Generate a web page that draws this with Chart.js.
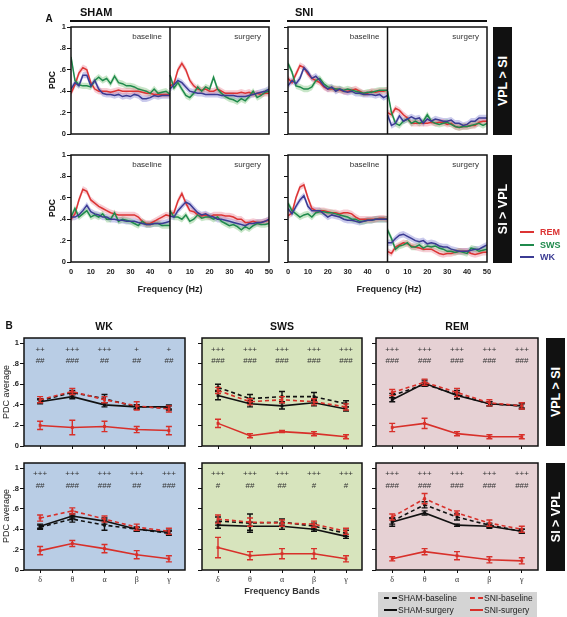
<!DOCTYPE html>
<html><head><meta charset="utf-8">
<script src="https://cdn.jsdelivr.net/npm/chart.js@4.4.1/dist/chart.umd.min.js"></script>
<style>
body{margin:0;background:#fff;}
#fig{position:relative;width:567px;height:617px;overflow:hidden;font-family:'Liberation Sans',Arial,sans-serif;background:#fff;}
#fig canvas{position:absolute;}
.t{position:absolute;white-space:nowrap;color:#111;line-height:1;}
.blk{position:absolute;background:#111;}
</style></head>
<body><div id="fig"></div>
<script>
// ---------------- Panel A data (PDC vs frequency, 2 Hz steps) ----------------
const freqHz = [0,2,4,6,8,10,12,14,16,18,20,22,24,26,28,30,32,34,36,38,40,42,44,46,48,50];
const freqTickLabels = ['0','10','20','30','40','0','10','20','30','40','50'];
const stateNames = ['REM','SWS','WK'];
const bandHalfWidth = [0.03,0.03,0.03]; // shaded SEM band per state

// SHAM, VPL > SI
const shamVplBaseREM = [0.38,0.46,0.57,0.62,0.60,0.48,0.42,0.40,0.40,0.40,0.39,0.40,0.41,0.40,0.40,0.40,0.40,0.40,0.39,0.38,0.38,0.37,0.37,0.37,0.37,0.37];
const shamVplBaseSWS = [0.72,0.50,0.46,0.45,0.45,0.44,0.50,0.53,0.50,0.52,0.47,0.54,0.48,0.47,0.45,0.45,0.44,0.42,0.41,0.40,0.38,0.42,0.38,0.39,0.40,0.37];
const shamVplBaseWK  = [0.42,0.48,0.45,0.55,0.55,0.45,0.50,0.42,0.38,0.37,0.37,0.36,0.37,0.35,0.36,0.35,0.37,0.36,0.33,0.33,0.34,0.36,0.35,0.36,0.36,0.36];
const shamVplSurgREM = [0.45,0.47,0.60,0.66,0.60,0.50,0.45,0.42,0.41,0.42,0.40,0.40,0.42,0.40,0.38,0.38,0.38,0.38,0.39,0.38,0.39,0.37,0.38,0.37,0.38,0.38];
const shamVplSurgSWS = [0.55,0.43,0.48,0.42,0.36,0.34,0.38,0.44,0.40,0.44,0.42,0.53,0.42,0.38,0.35,0.33,0.32,0.30,0.33,0.31,0.35,0.40,0.34,0.36,0.39,0.40];
const shamVplSurgWK  = [0.42,0.46,0.50,0.48,0.44,0.40,0.39,0.38,0.38,0.37,0.37,0.37,0.37,0.36,0.36,0.36,0.36,0.35,0.35,0.35,0.36,0.37,0.38,0.39,0.40,0.42];
// SNI, VPL > SI
const sniVplBaseREM = [0.52,0.48,0.56,0.64,0.62,0.56,0.52,0.50,0.48,0.44,0.42,0.42,0.42,0.41,0.40,0.40,0.41,0.42,0.40,0.38,0.38,0.40,0.39,0.40,0.40,0.41];
const sniVplBaseSWS = [0.66,0.58,0.45,0.44,0.42,0.42,0.44,0.50,0.52,0.47,0.44,0.43,0.42,0.42,0.41,0.42,0.41,0.40,0.39,0.38,0.39,0.39,0.40,0.41,0.41,0.41];
const sniVplBaseWK  = [0.45,0.50,0.47,0.52,0.62,0.58,0.52,0.54,0.50,0.45,0.42,0.44,0.40,0.42,0.40,0.39,0.40,0.38,0.38,0.37,0.37,0.37,0.36,0.37,0.34,0.36];
const sniVplSurgREM = [0.20,0.18,0.24,0.22,0.18,0.15,0.10,0.10,0.10,0.10,0.10,0.11,0.10,0.11,0.11,0.09,0.10,0.07,0.06,0.07,0.07,0.08,0.08,0.11,0.12,0.12];
const sniVplSurgSWS = [0.40,0.20,0.10,0.08,0.12,0.14,0.10,0.12,0.10,0.12,0.18,0.12,0.10,0.09,0.10,0.11,0.09,0.07,0.06,0.07,0.07,0.08,0.09,0.10,0.08,0.10];
const sniVplSurgWK  = [0.18,0.08,0.10,0.17,0.12,0.14,0.16,0.14,0.15,0.10,0.14,0.12,0.14,0.13,0.12,0.12,0.13,0.10,0.10,0.08,0.09,0.12,0.12,0.15,0.15,0.15];
// SHAM, SI > VPL
const shamSiBaseREM = [0.40,0.45,0.58,0.68,0.66,0.58,0.55,0.52,0.50,0.48,0.46,0.45,0.44,0.44,0.44,0.44,0.44,0.42,0.38,0.36,0.36,0.38,0.40,0.42,0.44,0.43];
const shamSiBaseSWS = [0.42,0.50,0.42,0.45,0.48,0.42,0.44,0.42,0.45,0.40,0.40,0.46,0.38,0.40,0.39,0.38,0.36,0.34,0.38,0.35,0.35,0.36,0.36,0.34,0.34,0.34];
const shamSiBaseWK  = [0.42,0.42,0.44,0.48,0.53,0.47,0.45,0.44,0.42,0.42,0.40,0.40,0.39,0.39,0.38,0.38,0.38,0.37,0.36,0.35,0.35,0.36,0.36,0.36,0.37,0.38];
const shamSiSurgREM = [0.45,0.46,0.57,0.64,0.55,0.48,0.47,0.44,0.43,0.44,0.42,0.44,0.44,0.44,0.43,0.43,0.42,0.40,0.40,0.37,0.37,0.38,0.37,0.37,0.38,0.39];
const shamSiSurgSWS = [0.48,0.42,0.42,0.40,0.44,0.38,0.40,0.44,0.41,0.42,0.42,0.40,0.42,0.38,0.36,0.34,0.35,0.33,0.30,0.33,0.31,0.34,0.36,0.35,0.35,0.36];
const shamSiSurgWK  = [0.43,0.42,0.48,0.52,0.56,0.54,0.50,0.46,0.44,0.45,0.43,0.42,0.40,0.40,0.39,0.38,0.37,0.36,0.35,0.34,0.36,0.36,0.37,0.37,0.38,0.40];
// SNI, SI > VPL
const sniSiBaseREM = [0.43,0.46,0.60,0.70,0.72,0.60,0.50,0.48,0.48,0.48,0.47,0.46,0.46,0.45,0.46,0.46,0.45,0.42,0.40,0.40,0.40,0.40,0.40,0.41,0.41,0.40];
const sniSiBaseSWS = [0.55,0.48,0.45,0.42,0.44,0.45,0.42,0.46,0.47,0.47,0.46,0.46,0.45,0.44,0.43,0.42,0.40,0.40,0.38,0.38,0.39,0.39,0.40,0.40,0.40,0.40];
const sniSiBaseWK  = [0.50,0.45,0.52,0.58,0.62,0.52,0.48,0.48,0.48,0.45,0.42,0.44,0.43,0.42,0.40,0.39,0.39,0.38,0.37,0.38,0.39,0.39,0.40,0.40,0.40,0.40];
const sniSiSurgREM = [0.10,0.08,0.14,0.16,0.18,0.17,0.15,0.14,0.13,0.12,0.12,0.12,0.10,0.08,0.07,0.08,0.08,0.09,0.10,0.10,0.10,0.08,0.07,0.08,0.09,0.09];
const sniSiSurgSWS = [0.30,0.22,0.12,0.15,0.16,0.18,0.14,0.14,0.16,0.13,0.15,0.14,0.15,0.13,0.12,0.10,0.10,0.09,0.10,0.09,0.08,0.13,0.12,0.10,0.11,0.12];
const sniSiSurgWK  = [0.18,0.18,0.22,0.25,0.26,0.24,0.22,0.20,0.19,0.20,0.17,0.18,0.17,0.15,0.14,0.14,0.12,0.11,0.10,0.10,0.10,0.11,0.12,0.12,0.14,0.16];

// ---------------- Panel B data (PDC average per band) ----------------
const bandLabels = ['δ','θ','α','β','γ'];
const seriesNames = ['SHAM-baseline','SHAM-surgery','SNI-baseline','SNI-surgery'];
// VPL > SI
const wkVplShamBase = [0.44,0.52,0.46,0.38,0.37], wkVplShamBaseErr = [0.02,0.02,0.04,0.02,0.02];
const wkVplShamSurg = [0.43,0.48,0.40,0.38,0.38], wkVplShamSurgErr = [0.02,0.02,0.02,0.02,0.02];
const wkVplSniBase  = [0.45,0.53,0.45,0.39,0.36], wkVplSniBaseErr  = [0.03,0.03,0.03,0.04,0.03];
const wkVplSniSurg  = [0.20,0.18,0.19,0.16,0.15], wkVplSniSurgErr  = [0.04,0.07,0.05,0.03,0.04];
const swsVplShamBase = [0.57,0.46,0.48,0.48,0.41], swsVplShamBaseErr = [0.03,0.04,0.05,0.04,0.03];
const swsVplShamSurg = [0.49,0.41,0.39,0.42,0.36], swsVplShamSurgErr = [0.04,0.03,0.03,0.03,0.02];
const swsVplSniBase  = [0.54,0.43,0.45,0.43,0.38], swsVplSniBaseErr  = [0.03,0.03,0.03,0.03,0.03];
const swsVplSniSurg  = [0.22,0.10,0.14,0.12,0.09], swsVplSniSurgErr  = [0.04,0.02,0.01,0.02,0.02];
const remVplShamBase = [0.49,0.60,0.50,0.41,0.39], remVplShamBaseErr = [0.02,0.02,0.04,0.02,0.02];
const remVplShamSurg = [0.45,0.61,0.49,0.41,0.39], remVplShamSurgErr = [0.02,0.03,0.03,0.02,0.03];
const remVplSniBase  = [0.52,0.62,0.52,0.42,0.39], remVplSniBaseErr  = [0.03,0.03,0.04,0.03,0.03];
const remVplSniSurg  = [0.18,0.22,0.12,0.09,0.09], remVplSniSurgErr  = [0.04,0.05,0.02,0.02,0.02];
// SI > VPL
const wkSiShamBase = [0.42,0.50,0.44,0.40,0.36], wkSiShamBaseErr = [0.02,0.03,0.05,0.02,0.02];
const wkSiShamSurg = [0.43,0.53,0.48,0.40,0.37], wkSiShamSurgErr = [0.02,0.02,0.03,0.02,0.02];
const wkSiSniBase  = [0.51,0.58,0.50,0.42,0.38], wkSiSniBaseErr  = [0.03,0.03,0.03,0.03,0.03];
const wkSiSniSurg  = [0.19,0.26,0.21,0.15,0.11], wkSiSniSurgErr  = [0.04,0.03,0.04,0.04,0.03];
const swsSiShamBase = [0.48,0.46,0.47,0.43,0.36], swsSiShamBaseErr = [0.04,0.09,0.03,0.03,0.03];
const swsSiShamSurg = [0.44,0.43,0.43,0.40,0.33], swsSiShamSurgErr = [0.03,0.04,0.03,0.02,0.02];
const swsSiSniBase  = [0.50,0.47,0.46,0.45,0.38], swsSiSniBaseErr  = [0.04,0.04,0.03,0.03,0.03];
const swsSiSniSurg  = [0.22,0.14,0.16,0.16,0.11], swsSiSniSurgErr  = [0.10,0.04,0.05,0.05,0.03];
const remSiShamBase = [0.48,0.64,0.52,0.44,0.38], remSiShamBaseErr = [0.03,0.03,0.03,0.02,0.02];
const remSiShamSurg = [0.47,0.56,0.44,0.43,0.38], remSiShamSurgErr = [0.04,0.02,0.01,0.02,0.02];
const remSiSniBase  = [0.52,0.70,0.56,0.46,0.40], remSiSniBaseErr  = [0.03,0.05,0.02,0.03,0.03];
const remSiSniSurg  = [0.11,0.18,0.14,0.10,0.09], remSiSniSurgErr  = [0.02,0.03,0.04,0.03,0.03];
// significance marks
const wkVplPlus  = ['++','+++','+++','+','+'],      wkVplHash  = ['##','###','##','##','##'];
const swsVplPlus = ['+++','+++','+++','+++','+++'], swsVplHash = ['###','###','###','###','###'];
const remVplPlus = ['+++','+++','+++','+++','+++'], remVplHash = ['###','###','###','###','###'];
const wkSiPlus   = ['+++','+++','+++','+++','+++'], wkSiHash   = ['##','###','###','##','###'];
const swsSiPlus  = ['+++','+++','+++','+++','+++'], swsSiHash  = ['#','##','##','#','#'];
const remSiPlus  = ['+++','+++','+++','+++','+++'], remSiHash  = ['###','###','###','###','###'];
const yTickValues = [0,0.2,0.4,0.6,0.8,1];

// ---------------- styles ----------------
const FONT = "'Liberation Sans', Arial, sans-serif";
const stateColor = ['#dc3434','#1f8a4c','#3b3b93'];
const stateBand  = ['rgba(232,120,140,0.38)','rgba(110,190,110,0.38)','rgba(115,115,205,0.38)'];
const RED_B = '#d8302a', BLACK_B = '#111';
const fig = document.getElementById('fig');
const YAX = 30, PT = 8, PR = 10, XAX = 22;

function fmtTick(v){ v = Math.round(v*10)/10; if (v===0) return '0'; if (v===1) return '1'; return '.'+Math.round(v*10); }

const framePlugin = {
  id: 'frame',
  beforeDraw(chart, a, o){
    const c = chart.ctx, ca = chart.chartArea;
    if (o.bg){ c.save(); c.fillStyle = o.bg; c.fillRect(ca.left, ca.top, ca.right-ca.left, ca.bottom-ca.top); c.restore(); }
  },
  afterDatasetDraw(chart, args){
    const ds = chart.data.datasets[args.index];
    if (!ds.err) return;
    const c = chart.ctx, ys = chart.scales.y;
    c.save(); c.strokeStyle = ds.borderColor; c.lineWidth = 1.4; c.setLineDash([]);
    args.meta.data.forEach((p, i) => {
      const v = ds.data[i], e = ds.err[i];
      const y1 = ys.getPixelForValue(v+e), y2 = ys.getPixelForValue(v-e);
      c.beginPath();
      c.moveTo(p.x, y1); c.lineTo(p.x, y2);
      c.moveTo(p.x-3, y1); c.lineTo(p.x+3, y1);
      c.moveTo(p.x-3, y2); c.lineTo(p.x+3, y2);
      c.stroke();
    });
    c.restore();
  },
  afterDraw(chart, a, o){
    const c = chart.ctx, ca = chart.chartArea, xs = chart.scales.x, ys = chart.scales.y;
    c.save();
    if (o.halves){
      c.font = '8px ' + FONT; c.fillStyle = '#333'; c.textAlign = 'right'; c.textBaseline = 'middle';
      c.fillText('baseline', xs.getPixelForValue(50)-8, ca.top+10);
      c.fillText('surgery', xs.getPixelForValue(100)-8, ca.top+10);
      c.strokeStyle = '#111'; c.lineWidth = 1.5;
      const xm = xs.getPixelForValue(50);
      c.beginPath(); c.moveTo(xm, ca.top); c.lineTo(xm, ca.bottom); c.stroke();
    }
    if (o.plus){
      c.font = '8px ' + FONT; c.fillStyle = '#333'; c.textAlign = 'center'; c.textBaseline = 'middle';
      o.plus.forEach((s,i)=> c.fillText(s, xs.getPixelForValue(i), ys.getPixelForValue(0.94)));
      o.hash.forEach((s,i)=> c.fillText(s, xs.getPixelForValue(i), ys.getPixelForValue(0.825)));
    }
    c.strokeStyle = '#111'; c.lineWidth = 1.5;
    c.strokeRect(ca.left, ca.top, ca.right-ca.left, ca.bottom-ca.top);
    c.restore();
  }
};

function makeChart(rect, config){
  const [L,T,R,B] = rect;
  const cv = document.createElement('canvas');
  cv.width = R-L+YAX+PR; cv.height = B-T+PT+XAX;
  cv.style.left = (L-YAX)+'px'; cv.style.top = (T-PT)+'px';
  cv.style.width = cv.width+'px'; cv.style.height = cv.height+'px';
  fig.appendChild(cv);
  Object.assign(config.options, {responsive:false, animation:false, devicePixelRatio:1,
    layout:{padding:{top:PT,right:PR,left:0,bottom:0}}});
  config.options.plugins = Object.assign({legend:{display:false}, tooltip:{enabled:false}}, config.options.plugins||{});
  config.plugins = [framePlugin];
  return new Chart(cv, config);
}

function yAxis(showLabels, max){
  return {
    type:'linear', min:0, max:max,
    afterBuildTicks: s => { s.ticks = yTickValues.map(v=>({value:v})); },
    afterFit: s => { s.width = YAX; },
    border:{display:false},
    grid:{drawOnChartArea:false, drawTicks:true, tickLength:4, color:'#111', lineWidth:1},
    ticks:{display:showLabels, padding:1, color:'#222', font:{family:FONT, size:7.5, weight:'bold'}, callback:v=>fmtTick(v)}
  };
}

// ---------- Panel A charts ----------
function panelA(rect, base, surg, showY, showX){
  const datasets = [];
  for (let s=0; s<3; s++){
    [[base[s],0],[surg[s],50]].forEach(([vals,off])=>{
      const up = datasets.length;
      datasets.push({data: vals.map((v,i)=>({x:off+freqHz[i], y:v+bandHalfWidth[s]})), borderWidth:0, borderColor:'rgba(0,0,0,0)', pointRadius:0, fill:false, order:10});
      datasets.push({data: vals.map((v,i)=>({x:off+freqHz[i], y:v-bandHalfWidth[s]})), borderWidth:0, borderColor:'rgba(0,0,0,0)', pointRadius:0, fill:up, backgroundColor:stateBand[s], order:10});
    });
  }
  for (let s=0; s<3; s++){
    [[base[s],0],[surg[s],50]].forEach(([vals,off])=>{
      datasets.push({label:stateNames[s], data: vals.map((v,i)=>({x:off+freqHz[i], y:v})), borderColor:stateColor[s], borderWidth:1.5, pointRadius:0, fill:false, tension:0, order:3-s});
    });
  }
  return makeChart(rect, {type:'line', data:{datasets}, options:{
    plugins:{frame:{halves:true}},
    scales:{
      x:{type:'linear', min:0, max:100,
        afterBuildTicks: sc => { sc.ticks = freqTickLabels.map((t,i)=>({value:i*10})); },
        afterFit: sc => { sc.height = XAX; },
        border:{display:false}, grid:{display:false, drawTicks:false},
        ticks:{display:showX, padding:5, maxRotation:0, autoSkip:false, color:'#222', font:{family:FONT, size:7.5, weight:'bold'}, callback:(v,i)=>freqTickLabels[i]}},
      y: yAxis(showY, 1)
    }}});
}

panelA([71,27,269,134], [shamVplBaseREM,shamVplBaseSWS,shamVplBaseWK], [shamVplSurgREM,shamVplSurgSWS,shamVplSurgWK], true, false);
panelA([288,27,487,134], [sniVplBaseREM,sniVplBaseSWS,sniVplBaseWK], [sniVplSurgREM,sniVplSurgSWS,sniVplSurgWK], false, false);
panelA([71,155,269,262], [shamSiBaseREM,shamSiBaseSWS,shamSiBaseWK], [shamSiSurgREM,shamSiSurgSWS,shamSiSurgWK], true, true);
panelA([288,155,487,262], [sniSiBaseREM,sniSiBaseSWS,sniSiBaseWK], [sniSiSurgREM,sniSiSurgSWS,sniSiSurgWK], false, true);

// ---------- Panel B charts ----------
function panelB(rect, bg, series, errs, plus, hash, showY, showX){
  const styles = [
    {color:BLACK_B, dash:[4,3]}, {color:BLACK_B, dash:[]},
    {color:RED_B, dash:[4,3]},   {color:RED_B, dash:[]}
  ];
  const drawOrder = [3,4,1,2];
  const datasets = series.map((vals,k)=>({
    label: seriesNames[k], data: vals, err: errs[k],
    borderColor: styles[k].color, borderDash: styles[k].dash, borderWidth: 1.6,
    pointStyle:'rect', pointRadius:2, pointBackgroundColor: styles[k].color, pointBorderWidth:0,
    tension:0, fill:false, order: drawOrder[k]
  }));
  return makeChart(rect, {type:'line', data:{labels:bandLabels, datasets}, options:{
    plugins:{frame:{bg:bg, plus:plus, hash:hash}},
    scales:{
      x:{type:'category', offset:true,
        afterFit: sc => { sc.height = XAX; },
        border:{display:false},
        grid:{drawOnChartArea:false, drawTicks:true, tickLength:3, color:'#111', offset:false},
        ticks:{display:showX, padding:2, maxRotation:0, color:'#333', font:{family:"'Liberation Serif', 'DejaVu Serif', serif", size:8}}},
      y: yAxis(showY, 1.05)
    }}});
}
const BG_WK = '#b9cde5', BG_SWS = '#d7e4bd', BG_REM = '#e6d1d4';
panelB([24,338,185,446], BG_WK,  [wkVplShamBase,wkVplShamSurg,wkVplSniBase,wkVplSniSurg], [wkVplShamBaseErr,wkVplShamSurgErr,wkVplSniBaseErr,wkVplSniSurgErr], wkVplPlus, wkVplHash, true, false);
panelB([202,338,362,446], BG_SWS, [swsVplShamBase,swsVplShamSurg,swsVplSniBase,swsVplSniSurg], [swsVplShamBaseErr,swsVplShamSurgErr,swsVplSniBaseErr,swsVplSniSurgErr], swsVplPlus, swsVplHash, false, false);
panelB([376,338,538,446], BG_REM, [remVplShamBase,remVplShamSurg,remVplSniBase,remVplSniSurg], [remVplShamBaseErr,remVplShamSurgErr,remVplSniBaseErr,remVplSniSurgErr], remVplPlus, remVplHash, false, false);
panelB([24,463,185,570], BG_WK,  [wkSiShamBase,wkSiShamSurg,wkSiSniBase,wkSiSniSurg], [wkSiShamBaseErr,wkSiShamSurgErr,wkSiSniBaseErr,wkSiSniSurgErr], wkSiPlus, wkSiHash, true, true);
panelB([202,463,362,570], BG_SWS, [swsSiShamBase,swsSiShamSurg,swsSiSniBase,swsSiSniSurg], [swsSiShamBaseErr,swsSiShamSurgErr,swsSiSniBaseErr,swsSiSniSurgErr], swsSiPlus, swsSiHash, false, true);
panelB([376,463,538,570], BG_REM, [remSiShamBase,remSiShamSurg,remSiSniBase,remSiSniSurg], [remSiShamBaseErr,remSiShamSurgErr,remSiSniBaseErr,remSiSniSurgErr], remSiPlus, remSiHash, false, true);

// ---------- text & decorations ----------
function txt(s, x, y, st, anchor, rot){
  const d = document.createElement('div'); d.className = 't'; d.textContent = s;
  d.style.left = x+'px'; d.style.top = y+'px';
  const tr = anchor==='left' ? 'translate(0,-50%)' : 'translate(-50%,-50%)';
  d.style.transform = tr + (rot ? ' rotate(-90deg)' : '');
  Object.assign(d.style, st||{}); fig.appendChild(d); return d;
}
function rect(x,y,w,h,bg){ const d=document.createElement('div'); d.className='blk'; Object.assign(d.style,{left:x+'px',top:y+'px',width:w+'px',height:h+'px',background:bg||'#111'}); fig.appendChild(d); return d; }

txt('A', 49, 19, {fontWeight:'bold', fontSize:'10px'});
txt('SHAM', 80, 12, {fontWeight:'bold', fontSize:'11px'}, 'left');
rect(70, 20, 200, 1.5);
txt('SNI', 295, 12, {fontWeight:'bold', fontSize:'11px'}, 'left');
rect(287, 20, 200, 1.5);
txt('PDC', 52, 80, {fontWeight:'bold', fontSize:'8.5px'}, null, true);
txt('PDC', 52, 208, {fontWeight:'bold', fontSize:'8.5px'}, null, true);
txt('Frequency (Hz)', 170, 289, {fontWeight:'bold', fontSize:'9px', color:'#222'});
txt('Frequency (Hz)', 389, 289, {fontWeight:'bold', fontSize:'9px', color:'#222'});

function sideBox(x, y, w, h, label){
  rect(x, y, w, h, '#111');
  txt(label, x+w/2, y+h/2, {fontWeight:'bold', fontSize:'12.5px', color:'#fff'}, null, true);
}
sideBox(493, 27, 19, 108, 'VPL > SI');
sideBox(493, 155, 19, 108, 'SI > VPL');
sideBox(546, 338, 19, 108, 'VPL > SI');
sideBox(546, 463, 19, 108, 'SI > VPL');

// Panel A legend
stateNames.forEach((n,i)=>{
  const y = 232 + i*12.5;
  rect(520, y-0.75, 14, 1.8, stateColor[i]);
  txt(n, 540, y, {fontWeight:'bold', fontSize:'9px', color:stateColor[i]}, 'left');
});

// Panel B labels
txt('B', 9, 326, {fontWeight:'bold', fontSize:'10px'});
txt('WK', 104, 326, {fontWeight:'bold', fontSize:'10.5px'});
txt('SWS', 282, 326, {fontWeight:'bold', fontSize:'10.5px'});
txt('REM', 457, 326, {fontWeight:'bold', fontSize:'10.5px'});
txt('PDC average', 6, 392, {fontSize:'9px', color:'#222'}, null, true);
txt('PDC average', 6, 516, {fontSize:'9px', color:'#222'}, null, true);
txt('Frequency Bands', 282, 591, {fontWeight:'bold', fontSize:'9px', color:'#333'});

// Panel B legend
rect(378, 592, 159, 25, '#d4d4d4');
function legB(x, y, color, dashed, label){
  const d = document.createElement('div');
  Object.assign(d.style, {position:'absolute', left:x+'px', top:(y-1)+'px', width:'13px', height:'0px',
    borderTop: '2px ' + (dashed ? 'dashed ' : 'solid ') + color});
  fig.appendChild(d);
  txt(label, x+14, y, {fontSize:'8.5px', color:'#222'}, 'left');
}
legB(384, 598, '#111', true, seriesNames[0]);
legB(470, 598, RED_B, true, seriesNames[2]);
legB(384, 610, '#111', false, seriesNames[1]);
legB(470, 610, RED_B, false, seriesNames[3]);
</script>
</body></html>
